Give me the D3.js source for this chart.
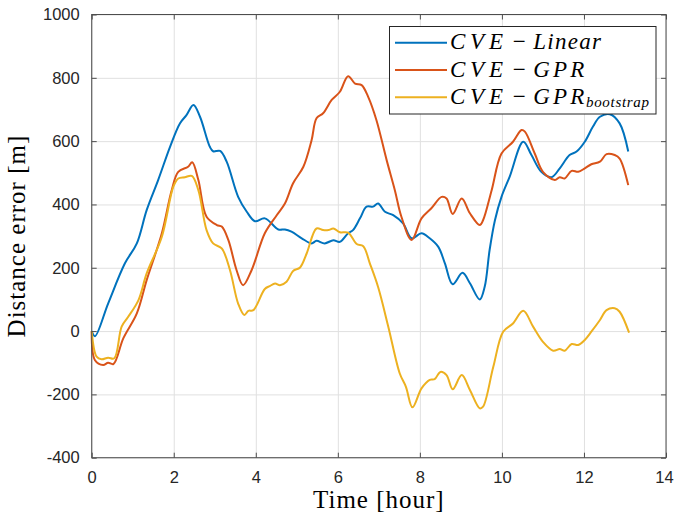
<!DOCTYPE html>
<html>
<head>
<meta charset="utf-8">
<script src="https://cdn.jsdelivr.net/npm/d3@7"></script>
<style>
  body { margin: 0; background: #fff; }
  .tick text { font-family: "Liberation Sans", Arial, sans-serif; font-size: 16.5px; fill: #262626; }
  .axis-label { font-family: "Liberation Serif", serif; font-size: 25px; letter-spacing: 1px; fill: #000; }
  .legend-text { font-family: "Liberation Serif", serif; font-style: italic; font-size: 23px; fill: #000; }
</style>
</head>
<body>
<div id="chart-area"></div>
<script>
// CVE - Linear
const linearT = [0, 0.08, 0.4, 0.81, 1.1, 1.34, 1.62, 1.91, 2.15, 2.31, 2.48, 2.64, 2.88, 2.96, 3.13, 3.29, 3.57, 3.78, 3.98, 4.22, 4.55, 4.71, 4.87, 5.12, 5.36, 5.48, 5.68, 5.89, 6.05, 6.25, 6.37, 6.54, 6.70, 6.86, 6.98, 7.15, 7.35, 7.59, 7.80, 8.04, 8.24, 8.45, 8.61, 8.80, 9.04, 9.22, 9.46, 9.58, 9.70, 9.83, 9.99, 10.19, 10.52, 10.72, 10.96, 11.21, 11.41, 11.65, 11.82, 12.02, 12.22, 12.39, 12.63, 12.87, 13.08]
const linearV = [0, -16, 87, 214, 277, 382, 477, 582, 656, 682, 714, 677, 582, 568, 569, 535, 424, 377, 347, 356, 321, 321, 314, 293, 277, 285, 277, 287, 282, 309, 319, 356, 393, 393, 403, 377, 366, 340, 293, 309, 293, 266, 214, 148, 184, 151, 100, 140, 256, 350, 424, 488, 598, 556, 503, 486, 514, 556, 567, 598, 646, 677, 685, 656, 567]

// CVE - GPR
const gprT = [0, 0.08, 0.28, 0.4, 0.53, 0.77, 1.1, 1.34, 1.71, 1.95, 2.11, 2.35, 2.45, 2.6, 2.8, 3.05, 3.17, 3.33, 3.53, 3.69, 3.9, 4.22, 4.51, 4.71, 4.91, 5.16, 5.36, 5.48, 5.64, 5.85, 6.05, 6.25, 6.42, 6.58, 6.74, 6.94, 7.19, 7.39, 7.55, 7.8, 8.04, 8.28, 8.53, 8.65, 8.80, 9.02, 9.22, 9.46, 9.54, 9.75, 9.99, 10.27, 10.48, 10.56, 10.80, 11.0, 11.29, 11.41, 11.53, 11.70, 11.86, 12.02, 12.18, 12.39, 12.55, 12.75, 12.87, 13.08]
const gprV = [0, -92, -107, -100, -104, -23, 56, 161, 309, 445, 503, 519, 533, 477, 361, 335, 330, 288, 193, 145, 193, 309, 366, 403, 467, 519, 603, 672, 688, 730, 756, 805, 782, 777, 740, 667, 540, 445, 361, 288, 356, 388, 424, 419, 370, 419, 372, 335, 350, 445, 561, 598, 635, 630, 561, 503, 477, 486, 482, 506, 503, 514, 527, 535, 559, 556, 545, 461]

// CVE - GPR bootstrap
const bootT = [0, 0.12, 0.24, 0.4, 0.55, 0.73, 0.89, 1.14, 1.34, 1.71, 1.99, 2.11, 2.27, 2.44, 2.6, 2.8, 2.96, 3.17, 3.37, 3.57, 3.72, 3.82, 3.94, 4.22, 4.34, 4.47, 4.59, 4.75, 4.91, 5.08, 5.24, 5.48, 5.64, 5.77, 5.89, 6.05, 6.25, 6.46, 6.62, 6.78, 6.98, 7.23, 7.51, 7.66, 7.82, 8.04, 8.24, 8.36, 8.50, 8.65, 8.80, 9.02, 9.22, 9.46, 9.54, 9.79, 10.03, 10.27, 10.52, 10.76, 11.0, 11.25, 11.41, 11.53, 11.70, 11.86, 12.02, 12.18, 12.39, 12.55, 12.75, 12.87, 13.10]
const bootV = [0, -81, -89, -84, -86, 14, 45, 98, 182, 298, 456, 482, 486, 490, 445, 319, 277, 261, 193, 87, 51, 64, 66, 133, 142, 150, 145, 156, 190, 201, 245, 324, 319, 319, 324, 312, 311, 275, 268, 214, 140, 14, -134, -176, -241, -181, -154, -152, -129, -139, -184, -139, -186, -244, -239, -113, -2, 24, 64, 14, -34, -62, -57, -62, -41, -44, -28, -2, 35, 66, 72, 61, -5]

const xTicks = [0, 2, 4, 6, 8, 10, 12, 14]
const yTicks = [-400, -200, 0, 200, 400, 600, 800, 1000]

const MARGIN = { LEFT: 91.7, RIGHT: 8, TOP: 14.5, BOTTOM: 61.3 }
const WIDTH = 674 - MARGIN.LEFT - MARGIN.RIGHT
const HEIGHT = 519 - MARGIN.TOP - MARGIN.BOTTOM

const svg = d3.select("#chart-area").append("svg")
  .attr("width", 674)
  .attr("height", 519)

const g = svg.append("g")
  .attr("transform", `translate(${MARGIN.LEFT}, ${MARGIN.TOP})`)

const x = d3.scaleLinear().domain([0, 14]).range([0, WIDTH])
const y = d3.scaleLinear().domain([-400, 1000]).range([HEIGHT, 0])

// grid
g.append("g")
  .attr("transform", `translate(0, ${HEIGHT})`)
  .call(d3.axisBottom(x).tickValues(xTicks).tickSize(-HEIGHT).tickFormat(""))
  .call(a => a.select(".domain").remove())
  .selectAll("line").attr("stroke", "#e0e0e0")
g.append("g")
  .call(d3.axisLeft(y).tickValues(yTicks).tickSize(-WIDTH).tickFormat(""))
  .call(a => a.select(".domain").remove())
  .selectAll("line").attr("stroke", "#e0e0e0")

// lines
const series = [
  { t: linearT, v: linearV, color: "#0072BD" },
  { t: gprT, v: gprV, color: "#D95319" },
  { t: bootT, v: bootV, color: "#EDB120" }
]
const line = d3.line()
  .x(d => x(d[0]))
  .y(d => y(d[1]))
  .curve(d3.curveCatmullRom)

series.forEach(s => {
  g.append("path")
    .datum(d3.zip(s.t, s.v))
    .attr("fill", "none")
    .attr("stroke", s.color)
    .attr("stroke-width", 2)
    .attr("stroke-linejoin", "round")
    .attr("d", line)
})

// axes, ticks pointing inward
const axisColor = "#4d4d4d"
const xAxis = g.append("g")
  .attr("transform", `translate(0, ${HEIGHT})`)
  .call(d3.axisBottom(x).tickValues(xTicks).tickFormat(d => String(d))
    .tickSizeInner(-5).tickSizeOuter(0).tickPadding(14))
// keep the last label inside the page
xAxis.selectAll(".tick text").filter(d => d === 14).attr("dx", -2)
const yAxis = g.append("g")
  .call(d3.axisLeft(y).tickValues(yTicks).tickFormat(d => String(d))
    .tickSizeInner(-5).tickSizeOuter(0).tickPadding(12))
const xTop = g.append("g")
  .call(d3.axisTop(x).tickValues(xTicks).tickSizeInner(-5).tickSizeOuter(0).tickFormat(""))
const yRight = g.append("g")
  .attr("transform", `translate(${WIDTH}, 0)`)
  .call(d3.axisRight(y).tickValues(yTicks).tickSizeInner(-5).tickSizeOuter(0).tickFormat(""))
;[xAxis, yAxis, xTop, yRight].forEach(a => {
  a.select(".domain").remove()
  a.selectAll("line").attr("stroke", axisColor)
})
g.append("rect")
  .attr("width", WIDTH)
  .attr("height", HEIGHT)
  .attr("fill", "none")
  .attr("stroke", axisColor)

// X label
g.append("text")
  .attr("class", "axis-label")
  .attr("x", WIDTH / 2)
  .attr("y", HEIGHT + 50)
  .attr("text-anchor", "middle")
  .text("Time [hour]")

// Y label
g.append("text")
  .attr("class", "axis-label")
  .attr("x", -(HEIGHT / 2))
  .attr("y", -67)
  .attr("transform", "rotate(-90)")
  .attr("text-anchor", "middle")
  .text("Distance error [m]")

// legend
const legendRight = ["Linear", "GPR", "GPR"]
const legendRightW = [67.7, 51, 51]
const leg = svg.append("g")
leg.append("rect")
  .attr("x", 389.5).attr("y", 26.5)
  .attr("width", 266.5).attr("height", 87.5)
  .attr("fill", "#fff")
  .attr("stroke", "#262626")
legendRight.forEach((name, i) => {
  const ly = 42.7 + i * 27.3
  leg.append("line")
    .attr("x1", 395).attr("x2", 447)
    .attr("y1", ly).attr("y2", ly)
    .attr("stroke", series[i].color)
    .attr("stroke-width", 2)
  leg.append("text")
    .attr("class", "legend-text")
    .attr("x", 450).attr("y", ly + 6.5)
    .attr("textLength", 53).attr("lengthAdjust", "spacing")
    .text("CVE")
  leg.append("text")
    .attr("class", "legend-text")
    .style("font-style", "normal")
    .attr("x", 519.3).attr("y", ly + 6.5)
    .attr("text-anchor", "middle")
    .text("\u2212")
  leg.append("text")
    .attr("class", "legend-text")
    .attr("x", 533.3).attr("y", ly + 6.5)
    .attr("textLength", legendRightW[i]).attr("lengthAdjust", "spacing")
    .text(name)
})
leg.append("text")
  .attr("class", "legend-text")
  .attr("x", 586)
  .attr("y", 42.7 + 2 * 27.3 + 9.5)
  .attr("textLength", 63)
  .attr("lengthAdjust", "spacing")
  .style("font-size", "15px")
  .text("bootstrap")
</script>
</body>
</html>
